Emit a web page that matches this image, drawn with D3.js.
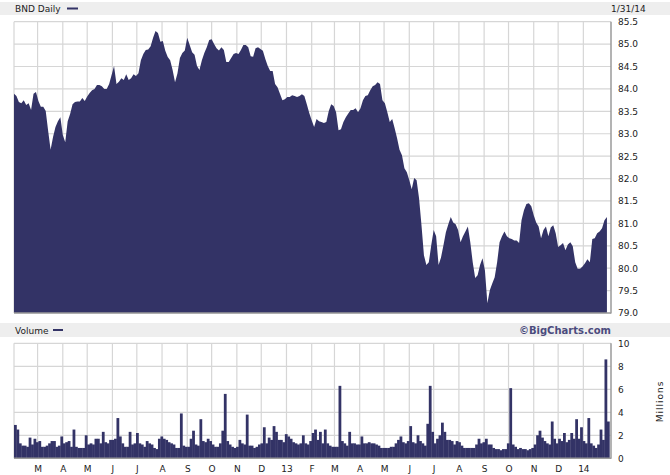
<!DOCTYPE html>
<html>
<head>
<meta charset="utf-8">
<script src="https://cdn.jsdelivr.net/npm/d3@7"></script>
<style>
  html, body { margin: 0; padding: 0; background: #ffffff; }
  svg { display: block; }
  text { font-family: "DejaVu Sans", Verdana, sans-serif; }
</style>
</head>
<body>
<svg id="chart" width="670" height="475"></svg>
<script>
// ---- data ----
const symbol = "BND Daily";
const lastDate = "1/31/14";
const startDate = new Date(2012, 1, 1);   // first sample, samples every 3 calendar days
const stepDays = 3;

// BND closing price, every 3 calendar days, Feb 2012 – Jan 2014
const prices = [
  83.89,83.84,83.71,83.68,83.75,83.64,83.68,83.53,83.89,83.93,
  83.73,83.60,83.60,83.51,83.06,82.64,82.93,83.15,83.28,83.37,
  82.97,82.81,83.28,83.44,83.66,83.71,83.72,83.72,83.80,83.73,
  83.83,83.91,83.97,84.00,84.09,84.09,84.06,84.00,84.00,84.11,
  84.31,84.51,84.11,84.16,84.24,84.20,84.33,84.20,84.24,84.33,
  84.29,84.35,84.64,84.78,84.87,84.88,84.95,85.14,85.29,85.25,
  85.05,85.07,84.85,84.71,84.64,84.42,84.15,84.35,84.69,84.80,
  84.86,85.14,84.98,84.82,84.76,84.51,84.42,84.64,84.80,84.93,
  85.09,85.11,85.00,84.91,84.86,84.93,84.87,84.60,84.60,84.69,
  84.78,84.80,84.78,84.87,84.98,84.98,84.93,84.73,84.72,84.91,
  84.93,84.89,84.85,84.67,84.51,84.40,84.40,84.11,84.04,83.89,
  83.75,83.77,83.82,83.82,83.86,83.84,83.82,83.84,83.88,83.84,
  83.66,83.46,83.30,83.15,83.33,83.28,83.26,83.24,83.26,83.51,
  83.66,83.62,83.48,83.08,83.10,83.26,83.37,83.45,83.53,83.53,
  83.57,83.48,83.57,83.75,83.84,83.86,83.97,84.06,84.09,84.15,
  84.11,83.75,83.68,83.48,83.26,83.33,83.12,82.90,82.64,82.52,
  82.23,82.14,81.96,81.76,82.01,81.96,81.56,80.96,80.29,80.07,
  80.13,80.51,80.85,80.71,80.07,80.24,80.51,80.80,80.98,81.14,
  81.02,80.98,80.85,80.58,80.71,80.82,80.93,80.58,80.13,79.78,
  79.84,80.07,80.22,79.95,79.22,79.51,79.66,79.80,80.13,80.58,
  80.71,80.82,80.71,80.67,80.65,80.62,80.62,80.56,81.07,81.29,
  81.43,81.45,81.38,81.18,81.02,80.93,80.67,80.85,80.93,80.71,
  80.91,80.96,80.78,80.47,80.51,80.56,80.40,80.53,80.58,80.49,
  80.13,79.99,79.99,80.04,80.11,80.20,80.13,80.65,80.67,80.78,
  80.82,80.89,81.07,81.14
];

// Volume in millions, same sampling
const volumes = [
  2.9,2.5,1.3,1.1,1.1,1.0,1.8,1.2,1.7,1.4,
  1.5,1.0,1.0,1.1,1.3,1.5,1.5,1.0,1.1,1.9,
  1.3,1.4,1.5,1.0,2.5,1.0,0.9,0.9,0.9,2.0,
  1.2,1.3,1.2,1.7,1.7,1.3,2.3,1.4,1.3,1.6,
  1.6,1.7,3.5,1.9,1.3,1.0,1.0,2.3,1.2,1.3,
  2.2,1.3,1.2,1.0,1.5,1.3,1.2,0.9,0.8,1.7,
  1.9,1.7,1.6,1.4,1.3,1.2,0.9,0.9,3.9,1.1,
  1.0,1.0,1.7,2.4,1.2,1.1,3.4,1.5,1.4,1.7,
  1.5,1.2,1.0,1.0,1.3,2.4,5.6,1.5,1.2,1.0,
  0.9,1.0,1.6,1.3,1.2,3.8,1.1,1.1,0.9,1.0,
  1.2,1.3,2.7,1.3,1.8,1.6,2.8,2.3,1.6,1.6,
  1.4,2.1,1.9,1.7,1.4,1.3,1.2,1.3,2.0,1.3,
  1.2,1.5,2.2,2.5,1.6,2.3,1.3,2.5,1.3,1.1,
  1.0,1.0,1.0,6.3,1.5,1.3,1.1,2.3,1.3,1.3,
  1.2,1.2,1.9,1.3,1.3,1.4,1.3,1.3,1.2,1.1,
  0.9,0.9,0.9,0.9,1.0,1.0,1.3,1.6,1.9,1.4,
  1.3,1.5,2.8,1.4,1.3,2.0,1.5,1.3,1.1,3.0,
  6.3,2.3,1.3,1.7,2.0,3.1,2.3,1.6,1.6,1.5,
  1.2,1.5,1.4,1.1,0.9,0.9,0.9,0.9,0.9,1.2,
  1.7,1.3,1.4,1.7,1.2,1.2,0.9,0.8,0.8,0.7,
  0.8,0.8,1.3,6.1,1.2,1.0,0.8,0.9,0.8,0.8,
  0.7,0.8,0.9,1.2,2.0,2.4,1.8,1.5,1.3,1.2,
  3.2,1.7,1.3,1.7,1.5,2.2,1.4,1.6,2.2,1.7,
  3.4,1.7,2.7,1.5,1.3,3.5,1.3,1.1,0.9,1.2,
  2.5,1.6,8.6,3.2
];

const priceTicks = [79.0,79.5,80.0,80.5,81.0,81.5,82.0,82.5,83.0,83.5,84.0,84.5,85.0,85.5];
const volumeTicks = [0,2,4,6,8,10];
const monthLabels = ["M","A","M","J","J","A","S","O","N","D","13","F",
                     "M","A","M","J","J","A","S","O","N","D","14"];
const monthStarts = d3.timeMonth.range(new Date(2012, 2, 1), new Date(2014, 1, 1));

// ---- layout ----
const W = 670, H = 475;
const L = 14, R = 611;
const pTop = 21.7, pBot = 313;
const vTop = 343.3, vBot = 458.3;
const navy = "#333366";
const gridCol = "#d6d6d6";
const axisCol = "#9a9a9a";

const dates = prices.map((_, i) => d3.timeDay.offset(startDate, i * stepDays));

const x = d3.scaleTime()
  .domain([new Date(2012, 1, 1), new Date(2014, 1, 4)])
  .range([L, R]);
const yP = d3.scaleLinear().domain([79, 85.5]).range([pBot, pTop]);
const yV = d3.scaleLinear().domain([0, 10]).range([vBot, vTop]);

const svg = d3.select("#chart");

// header bands
svg.append("rect").attr("x", 0).attr("y", 2).attr("width", W).attr("height", 13).attr("fill", "#eeeeee");
svg.append("rect").attr("x", 0).attr("y", 323).attr("width", W).attr("height", 14).attr("fill", "#eeeeee");

svg.append("text").attr("x", 15).attr("y", 12).attr("font-size", 9).attr("fill", "#222").text(symbol);
svg.append("line").attr("x1", 67).attr("x2", 78).attr("y1", 8.5).attr("y2", 8.5)
  .attr("stroke", navy).attr("stroke-width", 2);
svg.append("text").attr("x", 611).attr("y", 12).attr("font-size", 9).attr("fill", "#222").text(lastDate);

svg.append("text").attr("x", 15).attr("y", 333.5).attr("font-size", 9).attr("fill", "#222").text("Volume");
svg.append("line").attr("x1", 53).attr("x2", 63).attr("y1", 330).attr("y2", 330)
  .attr("stroke", navy).attr("stroke-width", 2);
svg.append("text").attr("x", 611).attr("y", 334).attr("text-anchor", "end")
  .attr("font-size", 10).attr("font-weight", "bold").attr("fill", "#4b4b7d").text("\u00A9BigCharts.com");

// ---- grids ----
function grid(top, bot, yScale, ticks) {
  const g = svg.append("g");
  g.selectAll("line.h").data(ticks).join("line")
    .attr("x1", L).attr("x2", R)
    .attr("y1", d => yScale(d)).attr("y2", d => yScale(d))
    .attr("stroke", gridCol).attr("stroke-width", 1.2);
  g.selectAll("line.v").data(monthStarts).join("line")
    .attr("x1", d => x(d)).attr("x2", d => x(d))
    .attr("y1", top).attr("y2", bot)
    .attr("stroke", gridCol).attr("stroke-width", 1.2);
  g.append("line").attr("x1", L).attr("x2", L).attr("y1", top).attr("y2", bot)
    .attr("stroke", gridCol).attr("stroke-width", 1.2);
}
grid(pTop, pBot, yP, priceTicks);
grid(vTop, vBot, yV, volumeTicks);

// ---- price area ----
const area = d3.area()
  .x((d, i) => x(dates[i]))
  .y0(pBot)
  .y1(d => yP(d));
svg.append("path").datum(prices).attr("d", area).attr("fill", navy);

// ---- volume bars ----
const stepW = x(d3.timeDay.offset(startDate, stepDays)) - x(startDate);
svg.append("g").selectAll("rect").data(volumes).join("rect")
  .attr("x", (d, i) => x(dates[i]))
  .attr("width", stepW + 0.35)
  .attr("y", d => yV(d))
  .attr("height", d => vBot - yV(d))
  .attr("fill", navy);

// ---- frames ----
function frame(top, bot) {
  svg.append("line").attr("x1", R).attr("x2", R).attr("y1", top).attr("y2", bot + 0.5)
    .attr("stroke", axisCol).attr("stroke-width", 1.5);
  svg.append("line").attr("x1", L).attr("x2", R).attr("y1", bot).attr("y2", bot)
    .attr("stroke", axisCol).attr("stroke-width", 1.5);
}
frame(pTop, pBot);
frame(vTop, vBot);

// ---- right axes ----
const axP = d3.axisRight(yP).tickValues(priceTicks).tickFormat(d3.format(".1f")).tickSize(0).tickPadding(7);
const gP = svg.append("g").attr("transform", `translate(${R},0)`).call(axP);
const axV = d3.axisRight(yV).tickValues(volumeTicks).tickFormat(d3.format("d")).tickSize(0).tickPadding(7);
const gV = svg.append("g").attr("transform", `translate(${R},0)`).call(axV);
[gP, gV].forEach(g => {
  g.select(".domain").remove();
  g.selectAll("text").attr("font-size", 9).attr("fill", "#222")
    .attr("font-family", '"DejaVu Sans", Verdana, sans-serif');
});

svg.append("text")
  .attr("transform", "translate(663,401.5) rotate(-90)")
  .attr("text-anchor", "middle").attr("font-size", 9).attr("fill", "#222")
  .attr("letter-spacing", 1)
  .text("Millions");

// ---- bottom month axis ----
const axB = d3.axisBottom(x).tickValues(monthStarts)
  .tickFormat((d, i) => monthLabels[i]).tickSize(0).tickPadding(7);
const gB = svg.append("g").attr("transform", `translate(0,${vBot})`).call(axB);
gB.select(".domain").remove();
gB.selectAll("text").attr("font-size", 9).attr("fill", "#222")
  .attr("font-family", '"DejaVu Sans", Verdana, sans-serif');
</script>
</body>
</html>
